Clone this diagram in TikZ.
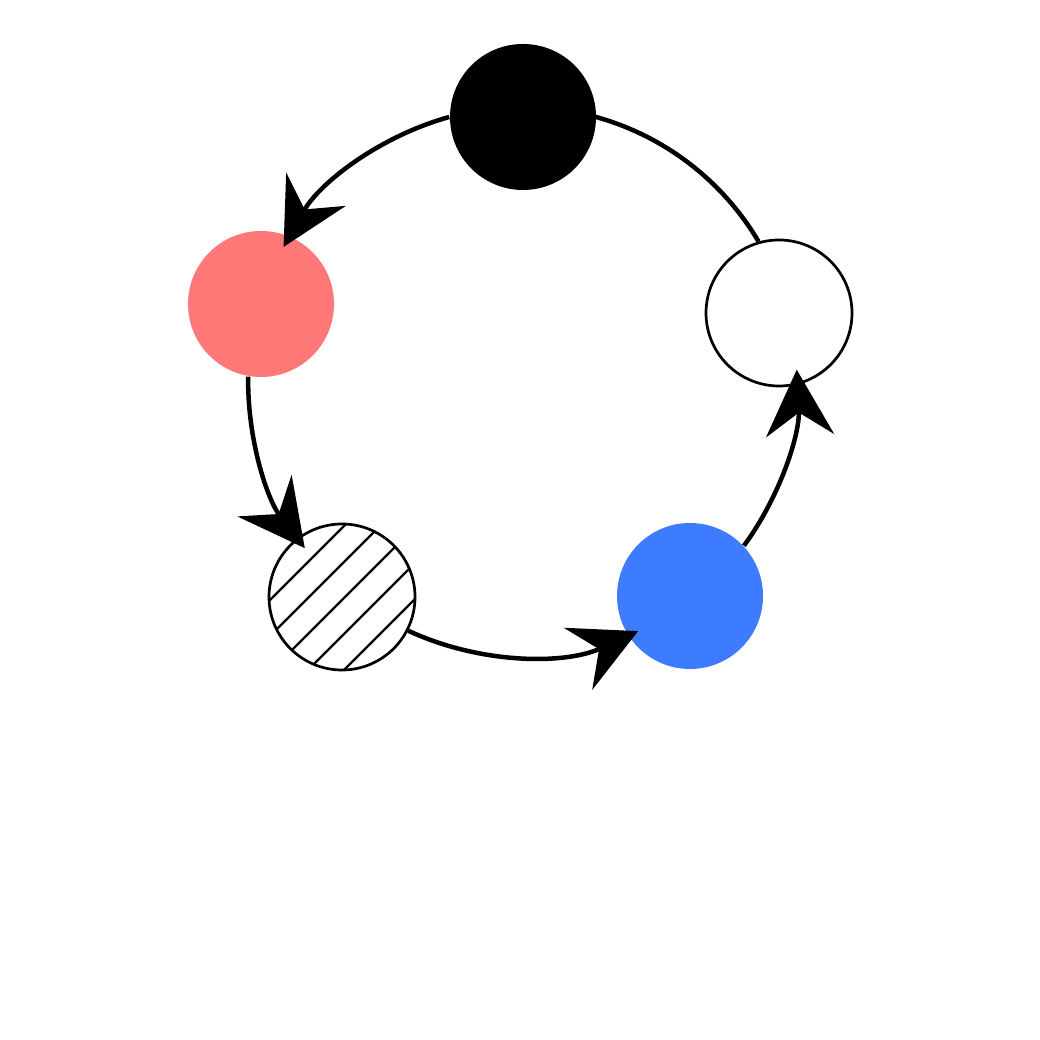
\documentclass[tikz,border=0pt]{standalone}
\usepackage{tikz}
\usetikzlibrary{arrows.meta}
\definecolor{statered}{RGB}{255,120,120}
\definecolor{stateblue}{RGB}{61,123,255}

\begin{document}
\begin{tikzpicture}[
  state/.style={circle, minimum size=1.46cm, inner sep=0pt},
  link/.style={line width=0.045cm},
  >={Stealth[length=0.66cm, width=0.68cm, inset=0.23cm]}]
  \useasboundingbox (0,0) rectangle (10.4,10.4);
  \node[state, fill=black] (dark) at (5.23,9.23) {};
  \node[state, fill=statered] (pink) at (2.61,7.36) {};
  \node[state, draw, line width=0.027cm,
    path picture={
      \foreach \k in {-2,...,2}
        \draw[line width=0.65pt] ([shift={({0.18*\k+0.015-0.8},{-0.18*\k-0.015-0.8})}]path picture bounding box.center) -- ++(1.6,1.6);
    }] (hatch) at (3.42,4.43) {};
  \node[state, fill=stateblue] (azure) at (6.90,4.44) {};
  \node[state, draw, line width=0.027cm] (empty) at (7.79,7.27) {};
  % arcs of one circle, centre (5.23,6.58), radius 2.74
  \draw[link, ->] (dark.180) arc[start angle=105.5, end angle=150.7, radius=2.74];
  \draw[link, ->] (pink.260.7) arc[start angle=179, end angle=217.5, radius=2.74];
  \draw[link, ->] (hatch.333) arc[start angle=245.1, end angle=294.7, radius=2.74];
  \draw[link, ->] (azure.43.9) arc[start angle=323.7, end angle=362.9, radius=2.74];
  \draw[link] (empty.106) arc[start angle=30.6, end angle=74.6, radius=2.74];
\end{tikzpicture}
\end{document}
